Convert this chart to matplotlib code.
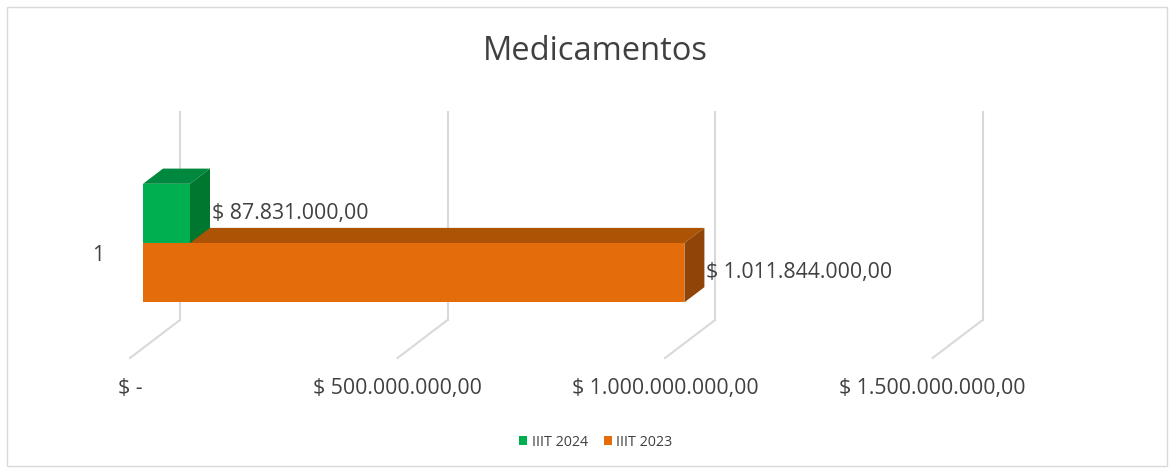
import matplotlib
matplotlib.use("Agg")
import matplotlib.pyplot as plt
from matplotlib.patches import Polygon, Rectangle, Patch

# data
series = ["IIIT 2024", "IIIT 2023"]
values = [87831000.00, 1011844000.00]
categories = ["1"]
tick_values = [0, 500000000, 1000000000, 1500000000]
tick_labels = ["$ -", "$ 500.000.000,00", "$ 1.000.000.000,00", "$ 1.500.000.000,00"]
value_labels = ["$ 87.831.000,00", "$ 1.011.844.000,00"]
title = "Medicamentos"

front_colors = ["#00B050", "#E46C0A"]
top_colors = ["#00893E", "#AD5306"]
side_colors = ["#00772F", "#914408"]
GRID = "#D9D9D9"
TEXT = "#404040"

plt.rcParams["font.family"] = ["Open Sans", "DejaVu Sans"]

W, H, DPI = 1175, 472, 100
fig = plt.figure(figsize=(W / DPI, H / DPI), dpi=DPI)
ax = fig.add_axes([0, 0, 1, 1])
ax.set_axis_off()

# plot geometry (pixels) for the oblique projection
X_ZERO = 130.0          # pixel x of value 0 on the floor front edge
PX_PER_VAL = 802.6 / 1.5e9
Y_FLOOR = 358.0         # pixel y of floor front edge (from top)
PX_PER_Y = 208.0
DEPTH_SLOPE = 0.76
WALL_Z, BAR_Z0, BAR_Z1 = 50.0, 13.0, 33.0

ax.set_xlim(-X_ZERO / PX_PER_VAL, (W - X_ZERO) / PX_PER_VAL)
ax.set_ylim((Y_FLOOR - H) / PX_PER_Y, Y_FLOOR / PX_PER_Y)


def proj(v, y, z):
    return (v + z / PX_PER_VAL, y + DEPTH_SLOPE * z / PX_PER_Y)


# back wall gridlines and floor lines
for tv in tick_values:
    p0 = proj(tv, 0, WALL_Z)
    p1 = proj(tv, 1, WALL_Z)
    pf = proj(tv, 0, 0)
    ax.plot([p0[0], p1[0]], [p0[1], p1[1]], color=GRID, lw=1.5, zorder=1)
    ax.plot([pf[0], p0[0]], [pf[1], p0[1]], color=GRID, lw=1.5, zorder=1)

# bars: series stacked within the category band (2024 on top)
bar_h = 0.285
cat_y = 0.505
bar_bottoms = [cat_y, cat_y - bar_h]
order = [1, 0]  # draw lower (orange) first
for i in order:
    v = values[i]
    y0 = bar_bottoms[i]
    y1 = y0 + bar_h
    front = [proj(0, y0, BAR_Z0), proj(v, y0, BAR_Z0), proj(v, y1, BAR_Z0), proj(0, y1, BAR_Z0)]
    top = [proj(0, y1, BAR_Z0), proj(v, y1, BAR_Z0), proj(v, y1, BAR_Z1), proj(0, y1, BAR_Z1)]
    side = [proj(v, y0, BAR_Z0), proj(v, y0, BAR_Z1), proj(v, y1, BAR_Z1), proj(v, y1, BAR_Z0)]
    z = 5 if i == 0 else 3
    ax.add_patch(Polygon(top, closed=True, facecolor=top_colors[i], edgecolor="none", zorder=z))
    ax.add_patch(Polygon(side, closed=True, facecolor=side_colors[i], edgecolor="none", zorder=z))
    ax.add_patch(Polygon(front, closed=True, facecolor=front_colors[i], edgecolor="none", zorder=z + 0.5))
    lx, _ = proj(v, y1, BAR_Z1)
    _, ly = proj(v, (y0 + y1) / 2, BAR_Z0)
    ax.annotate(value_labels[i], (lx, ly), xytext=(1.5, 0), textcoords="offset points",
                ha="left", va="center", fontsize=15.3, color=TEXT, zorder=10)

# value axis labels
for tv, tl in zip(tick_values, tick_labels):
    px, py = proj(tv, 0, 0)
    ax.annotate(tl, (px, py), xytext=(0, -22), textcoords="offset points",
                ha="center", va="center", fontsize=15.3, color=TEXT)

# category label
cx, cy = proj(0, cat_y, 0)
ax.annotate(categories[0], (cx, cy), xytext=(-19, -2), textcoords="offset points",
            ha="right", va="center", fontsize=15, color=TEXT)

fig.text(0.507, 1 - 52 / H, title, ha="center", va="center", fontsize=23.5, color=TEXT)

handles = [Patch(facecolor=front_colors[0], label=series[0]),
           Patch(facecolor=front_colors[1], label=series[1])]
fig.legend(handles=handles, loc="center", bbox_to_anchor=(0.507, 1 - 442 / H), ncol=2,
           frameon=False, fontsize=10.3, handlelength=0.6, handleheight=0.6,
           handletextpad=0.3, columnspacing=1.1, labelcolor=TEXT)

fig.patches.append(Rectangle((7 / W, 6 / H), 1160 / W, 459 / H, transform=fig.transFigure,
                             fill=False, edgecolor=GRID, lw=1.0))

fig.savefig("out.png", dpi=DPI)
